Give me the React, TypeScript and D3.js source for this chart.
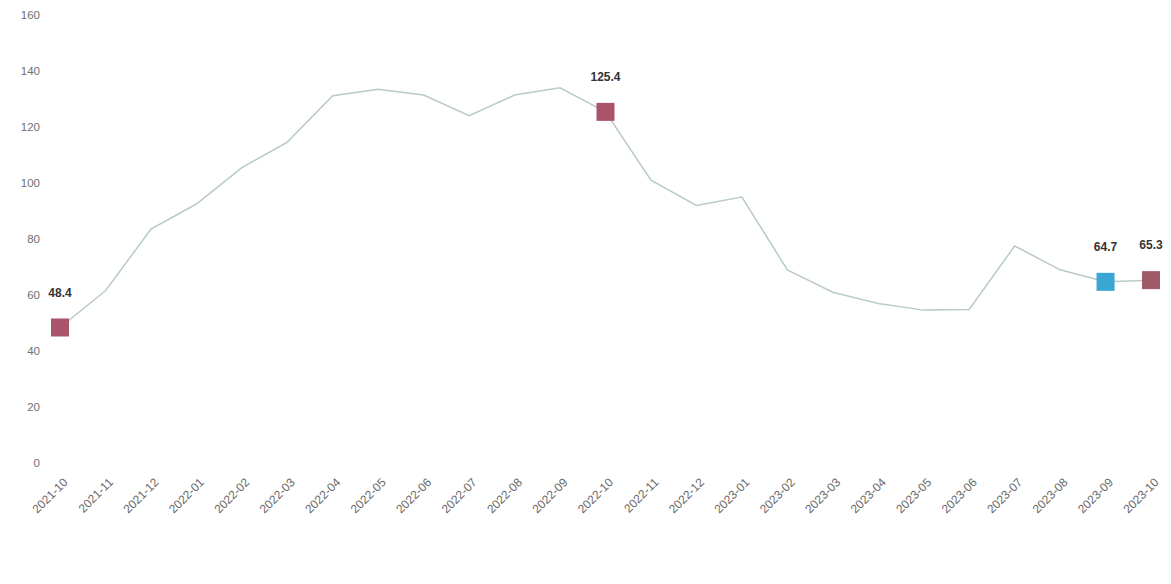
import { useRef, useEffect } from 'react'
import * as d3 from 'd3'

const WIDTH = 1171
const HEIGHT = 584
const MARGIN = { top: 15, right: 20, bottom: 121, left: 60 }
const FONT = 'Arial, "Liberation Sans", sans-serif'

const months = [
  '2021-10', '2021-11', '2021-12', '2022-01', '2022-02', '2022-03', '2022-04',
  '2022-05', '2022-06', '2022-07', '2022-08', '2022-09', '2022-10', '2022-11',
  '2022-12', '2023-01', '2023-02', '2023-03', '2023-04', '2023-05', '2023-06',
  '2023-07', '2023-08', '2023-09', '2023-10',
]

const values = [
  48.4, 61.5, 83.5, 92.5, 105.5, 114.6, 131.2, 133.5, 131.4, 124, 131.4, 134,
  125.4, 101, 92, 95, 69, 61, 57, 54.6, 54.8, 77.5, 69, 64.7, 65.3,
]

const yTicks = [0, 20, 40, 60, 80, 100, 120, 140, 160]

// highlighted points: index -> color
const highlights: { idx: number; color: string }[] = [
  { idx: 0, color: '#a9546b' },
  { idx: 12, color: '#a9546b' },
  { idx: 23, color: '#3aa6d3' },
  { idx: 24, color: '#a05a68' },
]

export default function App() {
  const svgRef = useRef<SVGSVGElement>(null)

  useEffect(() => {
    if (!svgRef.current) return
    const svg = d3.select(svgRef.current)
    svg.selectAll('*').remove()

    const x = d3
      .scalePoint<string>()
      .domain(months)
      .range([MARGIN.left, WIDTH - MARGIN.right])

    const y = d3
      .scaleLinear()
      .domain([0, 160])
      .range([HEIGHT - MARGIN.bottom, MARGIN.top])

    // Y axis labels only
    const yAxis = svg
      .append('g')
      .attr('transform', `translate(${MARGIN.left - 20},0)`)
      .call(d3.axisLeft(y).tickValues(yTicks).tickSize(0).tickPadding(0))
    yAxis.select('.domain').remove()
    yAxis
      .selectAll('text')
      .attr('fill', '#6f6f6f')
      .style('font-family', FONT)
      .style('font-size', '11.5px')

    // X axis labels rotated
    const xAxis = svg
      .append('g')
      .attr('transform', `translate(0,${y(0) + 17})`)
      .call(d3.axisBottom(x).tickSize(0).tickPadding(0))
    xAxis.select('.domain').remove()
    xAxis
      .selectAll('text')
      .attr('fill', '#6a6a6a')
      .attr('text-anchor', 'end')
      .attr('dy', '0.35em')
      .attr('transform', 'translate(5,0) rotate(-45)')
      .style('font-family', FONT)
      .style('font-size', '12px')

    const line = d3
      .line<number>()
      .x((_, i) => x(months[i]) ?? 0)
      .y((v) => y(v))
      .curve(d3.curveLinear)

    svg
      .append('path')
      .datum(values)
      .attr('d', line)
      .attr('fill', 'none')
      .attr('stroke', '#b8cbc6')
      .attr('stroke-width', 1.5)

    const size = 18
    const g = svg.append('g')
    g.selectAll('rect')
      .data(highlights)
      .join('rect')
      .attr('x', (d) => (x(months[d.idx]) ?? 0) - size / 2)
      .attr('y', (d) => y(values[d.idx]) - size / 2)
      .attr('width', size)
      .attr('height', size)
      .attr('fill', (d) => d.color)

    g.selectAll('text')
      .data(highlights)
      .join('text')
      .attr('x', (d) => x(months[d.idx]) ?? 0)
      .attr('y', (d) => y(values[d.idx]) - 35)
      .attr('dy', '0.35em')
      .attr('text-anchor', 'middle')
      .attr('fill', '#333')
      .style('font-family', FONT)
      .style('font-size', '12px')
      .style('font-weight', 'bold')
      .text((d) => values[d.idx].toFixed(1))
  }, [])

  return (
    <svg
      ref={svgRef}
      width={WIDTH}
      height={HEIGHT}
      style={{ position: 'absolute', left: 0, top: 0, background: '#fff' }}
    />
  )
}
